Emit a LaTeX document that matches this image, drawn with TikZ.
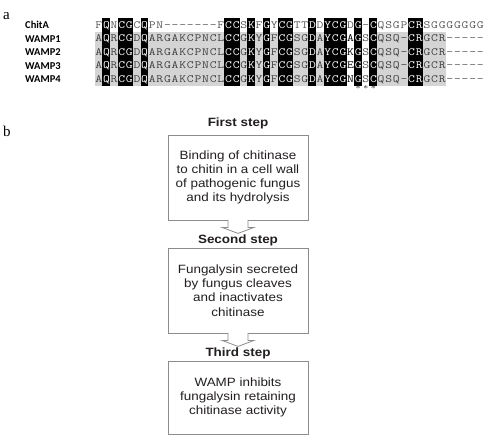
\documentclass[tikz,border=0pt]{standalone}
\usepackage{fontspec}
\setmainfont{Liberation Serif}
\newfontfamily\flowfont[FakeStretch=1.12]{Liberation Sans}
\newfontfamily\labfont{Carlito}
\usetikzlibrary{calc}
\definecolor{colb}{gray}{0}
\definecolor{colg}{gray}{0.83}
\definecolor{colw}{gray}{1}
\definecolor{colk}{gray}{1}
\definecolor{txtb}{gray}{1}
\definecolor{txtg}{gray}{0.25}
\definecolor{txtw}{gray}{0.35}
\definecolor{txtk}{gray}{0}
\definecolor{boxline}{gray}{0.55}
\definecolor{ink}{HTML}{231F20}
\tikzset{
  alnchar/.style={font=\ttfamily\fontsize{11}{11}\selectfont, inner sep=0pt, anchor=base},
  seqlab/.style={font=\labfont\bfseries\fontsize{10.5}{12}\selectfont, inner sep=0pt, anchor=base west},
  panel/.style={font=\fontsize{15}{15}\selectfont, inner sep=0pt, anchor=base west},
  stephead/.style={font=\flowfont\bfseries\fontsize{12}{14}\selectfont, text=ink, inner sep=0pt},
  stepbox/.style={draw=boxline, line width=0.8pt, minimum width=140pt, align=center,
    font=\flowfont\fontsize{12}{14.2}\selectfont, text=ink, inner sep=0pt},
  blkarrow/.style={draw=boxline, fill=white, line width=0.8pt, line join=miter},
  star/.style={font=\fontsize{9}{9}\selectfont, inner sep=0pt, text=txtg}
}
\newcommand\alnfill[2]{%
  \foreach \cl/\ch [count=\i] in #2{%
    \fill[fill=col\cl] ({95+(\i-1)*7.63-0.25},{#1-6.85}) rectangle ({95+\i*7.63+0.25},{#1+6.85});
  }}
\newcommand\alntext[2]{%
  \foreach \cl/\ch [count=\i] in #2{%
    \node[alnchar, text=txt\cl] at ({95+(\i-0.5)*7.63},{#1+3.4}) {\scalebox{1.2}[1]{\ch}};
  }}
\newcommand\rowChit{w/F,b/Q,w/N,b/C,b/G,w/C,b/Q,w/P,w/N,w/-,w/-,w/-,w/-,w/-,w/-,w/-,w/F,b/C,b/C,w/S,b/K,w/F,b/G,w/Y,b/C,b/G,w/T,w/T,b/D,w/D,b/Y,b/C,b/G,w/D,b/G,w/-,b/C,w/Q,w/S,w/G,w/P,b/C,b/R,w/S,w/G,w/G,w/G,w/G,w/G,w/G,w/G}
\newcommand\rowWa{g/A,b/Q,g/R,b/C,b/G,g/D,b/Q,g/A,g/R,g/G,g/A,g/K,g/C,g/P,g/N,g/C,g/L,b/C,b/C,g/G,b/K,g/Y,b/G,g/F,b/C,b/G,g/S,g/G,b/D,g/A,b/Y,b/C,b/G,k/A,b/G,w/S,b/C,g/Q,g/S,g/Q,g/-,b/C,b/R,g/G,g/C,g/R,w/-,w/-,w/-,w/-,w/-}
\newcommand\rowWb{g/A,b/Q,g/R,b/C,b/G,g/D,b/Q,g/A,g/R,g/G,g/A,g/K,g/C,g/P,g/N,g/C,g/L,b/C,b/C,g/G,b/K,g/Y,b/G,g/F,b/C,b/G,g/S,g/G,b/D,g/A,b/Y,b/C,b/G,k/K,b/G,w/S,b/C,g/Q,g/S,g/Q,g/-,b/C,b/R,g/G,g/C,g/R,w/-,w/-,w/-,w/-,w/-}
\newcommand\rowWc{g/A,b/Q,g/R,b/C,b/G,g/D,b/Q,g/A,g/R,g/G,g/A,g/K,g/C,g/P,g/N,g/C,g/L,b/C,b/C,g/G,b/K,g/Y,b/G,g/F,b/C,b/G,g/S,g/G,b/D,g/A,b/Y,b/C,b/G,k/E,b/G,w/S,b/C,g/Q,g/S,g/Q,g/-,b/C,b/R,g/G,g/C,g/R,w/-,w/-,w/-,w/-,w/-}
\newcommand\rowWd{g/A,b/Q,g/R,b/C,b/G,g/D,b/Q,g/A,g/R,g/G,g/A,g/K,g/C,g/P,g/N,g/C,g/L,b/C,b/C,g/G,b/K,g/Y,b/G,g/F,b/C,b/G,g/S,g/G,b/D,g/A,b/Y,b/C,b/G,k/N,b/G,w/S,b/C,g/Q,g/S,g/Q,g/-,b/C,b/R,g/G,g/C,g/R,w/-,w/-,w/-,w/-,w/-}
\begin{document}
\begin{tikzpicture}[x=1pt, y=-1pt]
\fill[white] (0,0) rectangle (485,437);
\useasboundingbox (0,0) rectangle (485,437);

% panel labels
\node[panel] (pa) at (3,19) {a};
\node[panel] (pb) at (3,136) {b};

% sequence labels
\node[seqlab] (l0) at (25,28.5) {ChitA};
\node[seqlab] (l1) at (25,42) {WAMP1};
\node[seqlab] (l2) at (25,55.5) {WAMP2};
\node[seqlab] (l3) at (25,69) {WAMP3};
\node[seqlab] (l4) at (25,82.5) {WAMP4};

% alignment backgrounds
\alnfill{25}{\rowChit}
\alnfill{38.5}{\rowWa}
\alnfill{52}{\rowWb}
\alnfill{65.5}{\rowWc}
\alnfill{79}{\rowWd}
% alignment letters
\alntext{25}{\rowChit}
\alntext{38.5}{\rowWa}
\alntext{52}{\rowWb}
\alntext{65.5}{\rowWc}
\alntext{79}{\rowWd}

% conserved marks
\node[star] (s1) at ({95+34.5*7.63},89) {*};
\node[star] (s2) at ({95+35.5*7.63},89) {*};
\node[star] (s3) at ({95+36.5*7.63},89) {*};

% flow chart
\node[stephead] (h1) at (238,123) {First step};
\node[stepbox, minimum height=85pt] (b1) at (238,177.5)
  {Binding of chitinase\\to chitin in a cell wall\\of pathogenic fungus\\and its hydrolysis};
\node[stephead] (h2) at (238,240) {Second step};
\node[stepbox, minimum height=85pt] (b2) at (238,290.5)
  {Fungalysin secreted\\by fungus cleaves\\and inactivates\\chitinase};
\node[stephead] (h3) at (238,353) {Third step};
\node[stepbox, minimum height=73pt] (b3) at (238,397.5)
  {WAMP inhibits\\fungalysin retaining\\chitinase activity};

\draw[blkarrow] ($(b1.south)+(-10,-0.6)$) -- ++(0,7.6) -- ++(-6,0) -- ($(b1.south)+(0,13)$)
  -- ++(16,-6) -- ++(-6,0) -- ++(0,-7.6);
\draw[blkarrow] ($(b2.south)+(-10,-0.6)$) -- ++(0,7.6) -- ++(-6,0) -- ($(b2.south)+(0,13)$)
  -- ++(16,-6) -- ++(-6,0) -- ++(0,-7.6);
\end{tikzpicture}
\end{document}
